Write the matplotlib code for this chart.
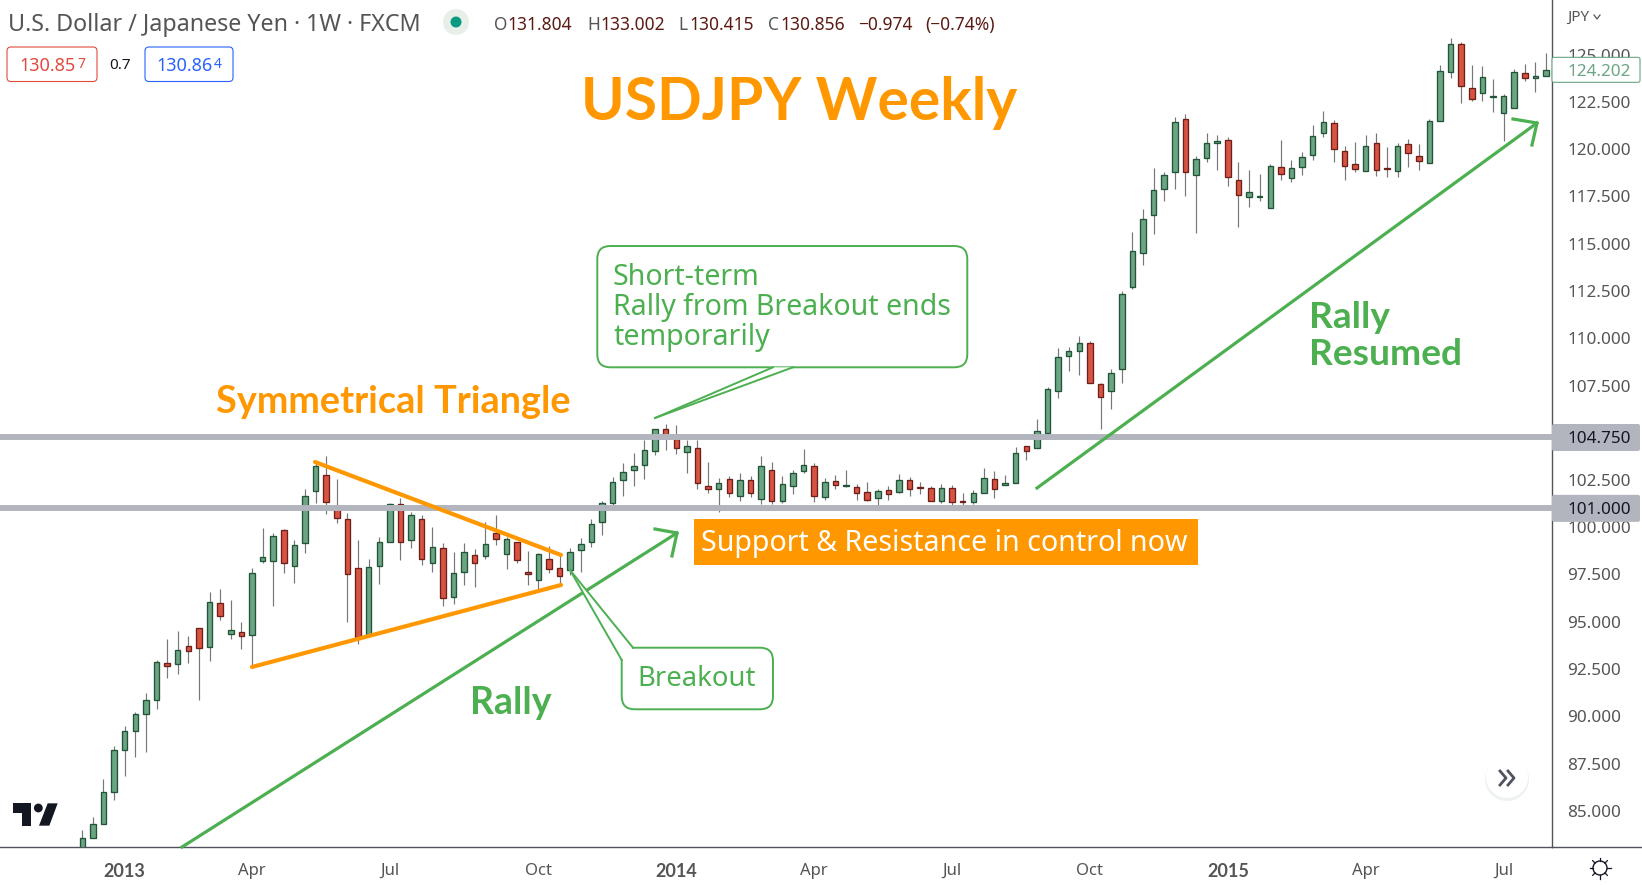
import matplotlib
matplotlib.use('Agg')
import matplotlib.pyplot as plt
from matplotlib.patches import Circle, FancyBboxPatch, Polygon, Rectangle

# weekly USDJPY candles
opens = [82.57, 83.54, 84.28, 85.97, 88.20, 89.20, 90.10, 90.84, 92.80, 92.75, 93.70, 94.65, 93.65, 95.97,
         94.33, 94.44, 94.28, 98.20, 98.20, 99.84, 97.93, 99.15, 101.90, 102.75, 101.09, 100.42, 97.82, 94.30,
         97.93, 99.20, 101.21, 99.30, 100.42, 98.09, 98.88, 96.29, 97.61, 98.51, 98.46, 99.68, 98.56, 99.20,
         97.61, 97.19, 98.30, 97.82, 97.72, 98.78, 99.20, 100.26, 101.26, 102.48, 103.01, 103.27, 104.01, 105.18,
         104.65, 103.96, 104.17, 102.16, 102.00, 102.53, 101.63, 102.48, 101.47, 103.01, 101.37, 102.16, 102.95,
         103.22, 101.58, 102.43, 102.16, 102.11, 101.84, 101.53, 101.95, 101.84, 102.48, 102.11, 102.06, 101.37,
         102.06, 101.37, 101.31, 101.79, 102.53, 102.21, 102.32, 104.28, 104.17, 104.97, 107.19, 109.05, 109.31,
         109.74, 107.57, 107.19, 108.36, 112.70, 114.50, 116.51, 117.88, 118.78, 121.59, 118.62, 119.52, 120.32,
         120.48, 118.36, 117.46, 117.49, 116.88, 119.05, 118.47, 119.04, 119.68, 120.84, 121.37, 119.89, 119.20,
         118.83, 120.31, 118.99, 118.83, 120.26, 119.63, 119.26, 121.48, 124.07, 125.55, 123.22, 122.96, 122.75,
         121.90, 122.17, 124.02, 123.75, 123.86]
highs = [83.98, 84.67, 86.66, 88.43, 89.48, 90.22, 91.23, 92.97, 94.09, 94.51, 94.25, 94.65, 96.56, 96.73,
         96.15, 94.99, 97.84, 99.96, 99.68, 99.91, 99.31, 102.00, 103.43, 103.77, 102.55, 100.74, 99.33, 98.30,
         99.48, 101.26, 101.53, 100.82, 100.63, 100.01, 99.15, 98.67, 99.15, 98.83, 100.26, 100.63, 99.50, 99.23,
         98.74, 98.62, 98.99, 98.49, 98.88, 99.41, 100.44, 101.39, 102.64, 103.38, 103.91, 104.61, 105.18, 105.46,
         105.41, 104.61, 104.61, 103.45, 102.58, 102.71, 102.87, 102.71, 103.75, 103.45, 102.71, 103.01, 104.14,
         103.38, 102.58, 102.74, 103.01, 102.27, 102.37, 102.00, 102.16, 102.80, 102.64, 102.37, 102.16, 102.27,
         102.21, 101.79, 101.95, 103.11, 102.97, 102.76, 104.24, 104.28, 105.72, 107.41, 109.49, 109.54, 110.12,
         109.84, 107.62, 108.36, 112.49, 115.63, 116.84, 119.00, 118.80, 121.69, 121.87, 119.65, 120.86, 120.76,
         120.65, 119.33, 118.91, 118.69, 119.22, 120.49, 119.44, 119.86, 121.28, 122.03, 121.55, 120.17, 120.38,
         120.74, 120.86, 120.12, 120.31, 120.54, 120.28, 121.58, 124.46, 125.87, 125.68, 124.46, 124.41, 123.72,
         122.91, 124.23, 124.51, 124.62, 125.09]
lows = [82.30, 83.54, 84.28, 85.57, 86.84, 87.86, 88.13, 90.40, 92.04, 92.25, 92.83, 90.88, 92.94, 95.11,
        94.10, 93.58, 92.71, 98.13, 95.85, 97.60, 97.07, 98.66, 101.30, 100.72, 100.24, 95.00, 93.82, 94.17,
        97.01, 99.20, 98.28, 98.92, 98.02, 97.65, 95.85, 95.95, 96.94, 96.85, 98.33, 99.06, 97.81, 98.12,
        96.94, 96.73, 97.59, 96.99, 97.47, 97.65, 98.97, 99.60, 101.19, 101.67, 102.20, 102.57, 103.84, 104.10,
        103.89, 102.89, 102.02, 101.83, 100.82, 101.60, 101.40, 101.61, 101.24, 101.24, 101.30, 101.77, 102.85,
        101.35, 101.46, 102.00, 102.11, 101.46, 101.37, 101.17, 101.46, 101.79, 101.67, 101.77, 101.37, 101.30,
        101.17, 101.17, 101.24, 101.79, 101.56, 102.21, 102.32, 103.55, 104.17, 104.90, 106.86, 108.29, 108.06,
        107.62, 105.22, 106.28, 107.64, 112.63, 113.90, 115.49, 117.28, 117.92, 117.50, 115.59, 119.33, 118.91,
        118.08, 115.91, 116.97, 117.28, 116.88, 118.38, 118.29, 118.64, 119.42, 120.67, 119.34, 118.39, 118.78,
        118.83, 118.60, 118.55, 118.55, 119.06, 118.92, 119.26, 121.48, 123.77, 122.45, 122.54, 122.55, 121.99,
        120.44, 122.17, 123.63, 123.03, 123.86]
closes = [83.54, 84.28, 85.97, 88.20, 89.20, 90.10, 90.84, 92.85, 92.68, 93.49, 93.43, 93.59, 96.03, 95.29,
          94.55, 94.23, 97.56, 98.41, 99.52, 98.09, 99.04, 101.64, 103.22, 101.31, 100.47, 97.51, 94.17, 97.88,
          99.20, 101.21, 99.20, 100.63, 98.30, 98.93, 96.24, 97.56, 98.67, 98.09, 99.09, 99.36, 99.36, 98.25,
          97.51, 98.56, 97.77, 97.40, 98.67, 99.09, 100.15, 101.26, 102.37, 102.90, 103.22, 104.07, 105.18, 104.79,
          104.17, 104.28, 102.32, 102.04, 102.32, 101.79, 102.48, 101.79, 103.22, 101.37, 102.27, 102.85, 103.27,
          101.63, 102.37, 102.21, 102.21, 101.79, 101.42, 101.90, 101.74, 102.48, 102.00, 102.06, 101.37, 102.06,
          101.31, 101.31, 101.79, 102.58, 102.00, 102.32, 103.91, 104.01, 105.07, 107.30, 108.99, 109.31, 109.74,
          107.62, 106.88, 108.15, 112.33, 114.60, 116.30, 117.83, 118.62, 121.43, 118.78, 119.47, 120.32, 120.42,
          118.52, 117.57, 117.72, 117.53, 119.10, 118.68, 119.00, 119.57, 120.68, 121.43, 120.00, 119.10, 118.94,
          120.16, 118.89, 118.94, 120.16, 119.79, 119.36, 121.48, 124.12, 125.55, 123.33, 122.64, 123.81, 122.80,
          122.80, 124.07, 123.75, 123.86, 124.18]

# 105 sits under the 104.750 label in the reference, so it is left out
y_ticks = [85, 87.5, 90, 92.5, 95, 97.5, 100, 102.5, 107.5, 110, 112.5, 115, 117.5, 120, 122.5, 125]
x_ticks = [4, 16, 29, 43, 56, 69, 82, 95, 108, 121, 134]
x_labels = ['2013', 'Apr', 'Jul', 'Oct', '2014', 'Apr', 'Jul', 'Oct', '2015', 'Apr', 'Jul']
sr_levels = [104.75, 101.0]
last_price = 124.202

UP = '#6ba583'
UP_EDGE = '#225437'
DOWN = '#d75442'
DOWN_EDGE = '#6f1f1a'
WICK = '#777777'
GREY = '#b2b5be'
ORANGE = '#ff9800'
GREEN = '#4caf50'
AXIS = '#50535e'
TEXT = '#555555'
FONT = 'Noto Sans'
BOLD_FONT = 'Lato'

W, H = 1642, 885
plt.rcParams['font.family'] = FONT

fig = plt.figure(figsize=(W / 100, H / 100), dpi=100)
ax = fig.add_axes([0, (H - 847.3) / H, 1552.3 / W, 847.3 / H])

xs = list(range(len(opens)))
is_up = [c >= o for o, c in zip(opens, closes)]
ax.vlines(xs, lows, highs, color=WICK, lw=0.85, zorder=2)
ax.bar(xs, [abs(c - o) for o, c in zip(opens, closes)], bottom=[min(o, c) for o, c in zip(opens, closes)],
       width=0.52, color=[UP if u else DOWN for u in is_up],
       edgecolor=[UP_EDGE if u else DOWN_EDGE for u in is_up], linewidth=0.95, zorder=3)
for level in sr_levels:
    ax.axhline(level, color=GREY, lw=4.3, zorder=4)

ax.set_xlim(-7.757, 138.59)
ax.set_ylim(102.5 - 367.3 / 18.9, 102.5 + 480 / 18.9)
ax.yaxis.tick_right()
ax.set_yticks(y_ticks)
ax.set_yticklabels([f'{t:.3f}' for t in y_ticks], fontsize=12.3, color=TEXT, ha='left')
ax.set_xticks(x_ticks)
ax.set_xticklabels(x_labels, fontsize=12, color=TEXT)
for lab, name in zip(ax.get_xticklabels(), x_labels):
    if name.isdigit():
        lab.set_fontfamily(BOLD_FONT)
        lab.set_fontweight('bold')
        lab.set_fontsize(13)
ax.tick_params(axis='y', length=0, pad=10.6)
ax.tick_params(axis='x', length=0, pad=11)
for side in ['top', 'left']:
    ax.spines[side].set_visible(False)
for side in ['right', 'bottom']:
    ax.spines[side].set_color(AXIS)
    ax.spines[side].set_linewidth(1.0)


def price_y(p):
    return H - ax.transData.transform((0, p))[1]


# overlay in pixel coordinates for the drawing tools and the UI bits
ov = fig.add_axes([0, 0, 1, 1], facecolor='none')
ov.set_xlim(0, W)
ov.set_ylim(H, 0)
ov.axis('off')
ov.plot([1552, W], [847.3, 847.3], color=AXIS, lw=1.0)

# triangle
ov.plot([315, 561], [462, 555], color=ORANGE, lw=3, solid_capstyle='round')
ov.plot([252, 561], [667, 585], color=ORANGE, lw=3, solid_capstyle='round')

# trend arrows
ov.plot([182, 677], [847, 533], color=GREEN, lw=2.3)
ov.plot([655, 677, 672], [529, 533, 556], color=GREEN, lw=2.3)
ov.plot([1037, 1537], [488, 123], color=GREEN, lw=2.3)
ov.plot([1513, 1537, 1532], [119, 123, 145], color=GREEN, lw=2.3)


def callout(x0, y0, x1, y1, tail, tip):
    ov.add_patch(FancyBboxPatch((x0, y0), x1 - x0, y1 - y0, boxstyle='round,pad=0,rounding_size=13',
                                fc='white', ec=GREEN, lw=1.4, zorder=5))
    ov.add_patch(Polygon([tail[0], tip, tail[1]], closed=True, fc='white', ec='none', zorder=5))
    for pt in tail:
        ov.plot([pt[0], tip[0]], [pt[1], tip[1]], color=GREEN, lw=1.4, zorder=6)


callout(597.3, 246, 967.3, 367.3, [(773, 367.3), (793, 367.3)], (655, 418))
callout(621.7, 647.7, 773, 709.3, [(633, 647.7), (621.7, 660)], (570, 570))
for txt, yb in zip(['Short-term', 'Rally from Breakout ends', 'temporarily'], [285, 315, 345]):
    ov.text(613, yb, txt, color=GREEN, fontsize=20.55, va='baseline', zorder=7)
ov.text(637, 686, 'Breakout', color=GREEN, fontsize=19.8, va='baseline', zorder=7)

ov.add_patch(Rectangle((694, 519), 504, 46, fc=ORANGE, ec='none', zorder=5))
ov.text(701, 551, 'Support & Resistance in control now', color='white', fontsize=20.6, va='baseline', zorder=7)

bold = dict(family=BOLD_FONT, fontweight='bold', va='baseline')
ov.text(581, 120, 'USDJPY Weekly', color=ORANGE, fontsize=42.3, **bold)
ov.text(216, 413, 'Symmetrical Triangle', color=ORANGE, fontsize=27.3, **bold)
ov.text(470, 714, 'Rally', color=GREEN, fontsize=27, **bold)
ov.text(1309, 328, 'Rally', color=GREEN, fontsize=26.7, **bold)
ov.text(1309, 365, 'Resumed', color=GREEN, fontsize=26.7, **bold)

# price labels on the right scale
for level in sr_levels:
    yc = price_y(level)
    ov.add_patch(FancyBboxPatch((1552, yc - 13.5), 88, 27, boxstyle='round,pad=0,rounding_size=2',
                                fc=GREY, ec='none', zorder=8))
    ov.text(1567, yc + 2, f'{level:.3f}', color='#131722', fontsize=12.3, va='center', zorder=9)
yc = price_y(last_price)
ov.add_patch(FancyBboxPatch((1552, yc - 12.5), 88, 25, boxstyle='round,pad=0,rounding_size=2',
                            fc='white', ec=UP, lw=0.8, zorder=8))
ov.text(1567, yc + 2, f'{last_price:.3f}', color=UP, fontsize=12.3, va='center', zorder=9)
ov.text(1567, 17, 'JPY', color=TEXT, fontsize=11, va='center')
ov.plot([1594, 1597, 1600], [15, 19, 15], color=TEXT, lw=0.9)

# header
ov.text(8, 31, 'U.S. Dollar / Japanese Yen · 1W · FXCM', color=TEXT, fontsize=16.75, va='baseline')
ov.add_patch(Circle((456, 22), 13, fc='#e8efe9', ec='none'))
ov.add_patch(Circle((456, 22), 5.5, fc='#089981', ec='none'))
VAL = '#5b1a13'
for x, txt, col in [(494, 'O', TEXT), (507, '131.804', VAL), (587, 'H', TEXT), (600, '133.002', VAL),
                    (678, 'L', TEXT), (689, '130.415', VAL), (768, 'C', TEXT), (780, '130.856', VAL),
                    (858, '−0.974', VAL), (925, '(−0.74%)', VAL)]:
    ov.text(x, 30, txt, color=col, fontsize=12.5, va='baseline')

ov.add_patch(FancyBboxPatch((7, 47), 90, 34.5, boxstyle='round,pad=0,rounding_size=4', fc='white', ec='#e04a3f', lw=0.8))
ov.text(19, 71, '130.85', color='#e04a3f', fontsize=13, va='baseline')
ov.text(77, 68, '7', color='#e04a3f', fontsize=10, va='baseline')
ov.text(109, 69, '0.7', color='#131722', fontsize=11, va='baseline')
ov.add_patch(FancyBboxPatch((145, 47), 88, 34.5, boxstyle='round,pad=0,rounding_size=4', fc='white', ec='#2962ff', lw=0.8))
ov.text(156, 71, '130.86', color='#2962ff', fontsize=13, va='baseline')
ov.text(214, 68, '4', color='#2962ff', fontsize=10, va='baseline')

# tradingview logo
def lx(z):
    return z / 3


def ly(z):
    return 780 + z / 3


LOGO = '#131722'
ov.add_patch(Polygon([(lx(a), ly(b)) for a, b in [(38, 70), (93, 70), (93, 137), (65, 137), (65, 98), (38, 98)]], fc=LOGO, ec='none'))
ov.add_patch(Circle((lx(115), ly(84)), 4.4, fc=LOGO, ec='none'))
ov.add_patch(Polygon([(lx(a), ly(b)) for a, b in [(143, 70), (173, 70), (148, 137), (117, 137)]], fc=LOGO, ec='none'))

# scroll button and theme icon
ov.add_patch(Circle((1507, 779), 22, fc='#eef2ee', ec='none'))
ov.add_patch(Circle((1507, 777), 21, fc='white', ec='none'))
ov.plot([1500, 1506, 1500], [771, 778, 785], color=AXIS, lw=2)
ov.plot([1508, 1514, 1508], [771, 778, 785], color=AXIS, lw=2)
ov.add_patch(Circle((1600, 868), 7, fc='white', ec='#131722', lw=1.0))
for dx, dy in [(0, 1), (0, -1), (1, 0), (-1, 0), (.7, .7), (-.7, .7), (.7, -.7), (-.7, -.7)]:
    ov.plot([1600 + 7 * dx, 1600 + 10.5 * dx], [868 + 7 * dy, 868 + 10.5 * dy], color='#131722', lw=0.9)

fig.savefig('out.png', dpi=100)
plt.close(fig)
